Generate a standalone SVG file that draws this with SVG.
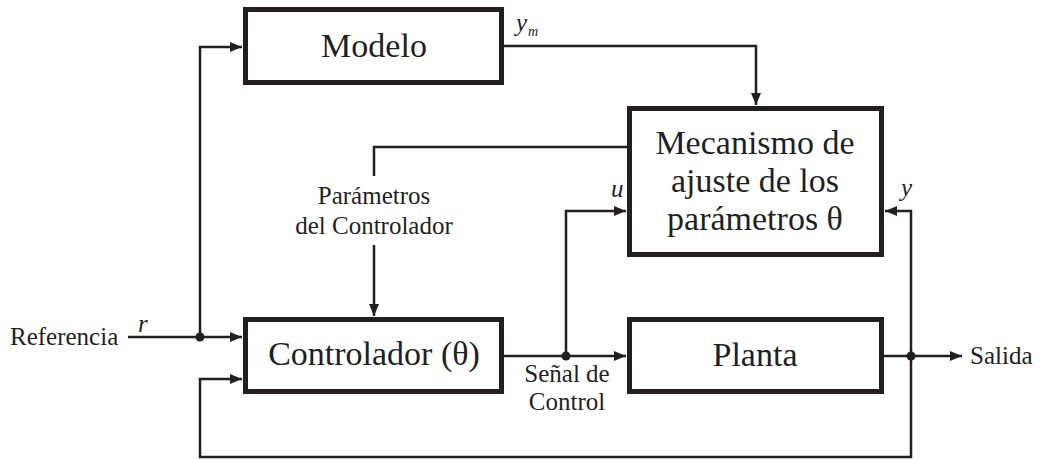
<svg xmlns="http://www.w3.org/2000/svg" width="1049" height="459" viewBox="0 0 1049 459">
<style>
.box{fill:#fff;stroke:#231f20;stroke-width:5}
.bt{font-family:"Liberation Serif","Times New Roman",serif;font-size:34px;fill:#231f20;text-anchor:middle}
.st{font-family:"Liberation Serif","Times New Roman",serif;font-size:25px;fill:#231f20}
.it{font-family:"Liberation Serif","Times New Roman",serif;font-size:25px;font-style:italic;fill:#231f20}
.ln{fill:none;stroke:#231f20;stroke-width:2.5}
.dot{fill:#231f20}
</style>
<defs>
<marker id="ah" markerWidth="12" markerHeight="10" refX="12" refY="5" orient="auto" markerUnits="userSpaceOnUse">
<path d="M0,0 L12,5 L0,10 Z" fill="#231f20"/>
</marker>
</defs>
<rect width="1049" height="459" fill="#fff"/>
<g id="connectors">
<path class="ln" d="M128 337 H242" marker-end="url(#ah)"/>
<path class="ln" d="M200 337 V47 H242" marker-end="url(#ah)"/>
<path class="ln" d="M911 356 V457 H200 V379 H242" marker-end="url(#ah)"/>
<path class="ln" d="M504 356 H626" marker-end="url(#ah)"/>
<path class="ln" d="M566 356 V211 H626" marker-end="url(#ah)"/>
<path class="ln" d="M884 356 H962" marker-end="url(#ah)"/>
<path class="ln" d="M911 356 V211 H885" marker-end="url(#ah)"/>
<path class="ln" d="M504 46 H756 V105" marker-end="url(#ah)"/>
<path class="ln" d="M627 147 H374 V176"/>
<path class="ln" d="M374 245 V316" marker-end="url(#ah)"/>
<circle class="dot" cx="200" cy="337" r="4.5"/>
<circle class="dot" cx="566" cy="356" r="4.5"/>
<circle class="dot" cx="911" cy="356" r="4.5"/>
</g>
<g id="modelo">
<rect class="box" x="245.5" y="9.5" width="256" height="73"/>
<text class="bt" x="374" y="57">Modelo</text>
</g>
<g id="mecanismo">
<rect class="box" x="629.5" y="108.5" width="252" height="146"/>
<text class="bt" x="755" y="154">Mecanismo de</text>
<text class="bt" x="755" y="192">ajuste de los</text>
<text class="bt" x="755" y="230">parámetros θ</text>
</g>
<g id="controlador">
<rect class="box" x="245.5" y="319.5" width="256" height="72"/>
<text class="bt" x="374" y="365">Controlador (θ)</text>
</g>
<g id="planta">
<rect class="box" x="629.5" y="319.5" width="252" height="72"/>
<text class="bt" x="755" y="366">Planta</text>
</g>
<g id="labels">
<text class="st" x="10" y="345">Referencia</text>
<text class="it" x="138" y="332">r</text>
<text class="it" x="516" y="31">y</text>
<text class="it" x="528" y="36" style="font-size:14px">m</text>
<text class="it" x="611" y="197">u</text>
<text class="it" x="901" y="196">y</text>
<text class="st" x="374" y="204" text-anchor="middle">Parámetros</text>
<text class="st" x="374" y="234" text-anchor="middle">del Controlador</text>
<text class="st" x="567" y="382" text-anchor="middle">Señal de</text>
<text class="st" x="567" y="410" text-anchor="middle">Control</text>
<text class="st" x="970" y="364">Salida</text>
</g>
</svg>
